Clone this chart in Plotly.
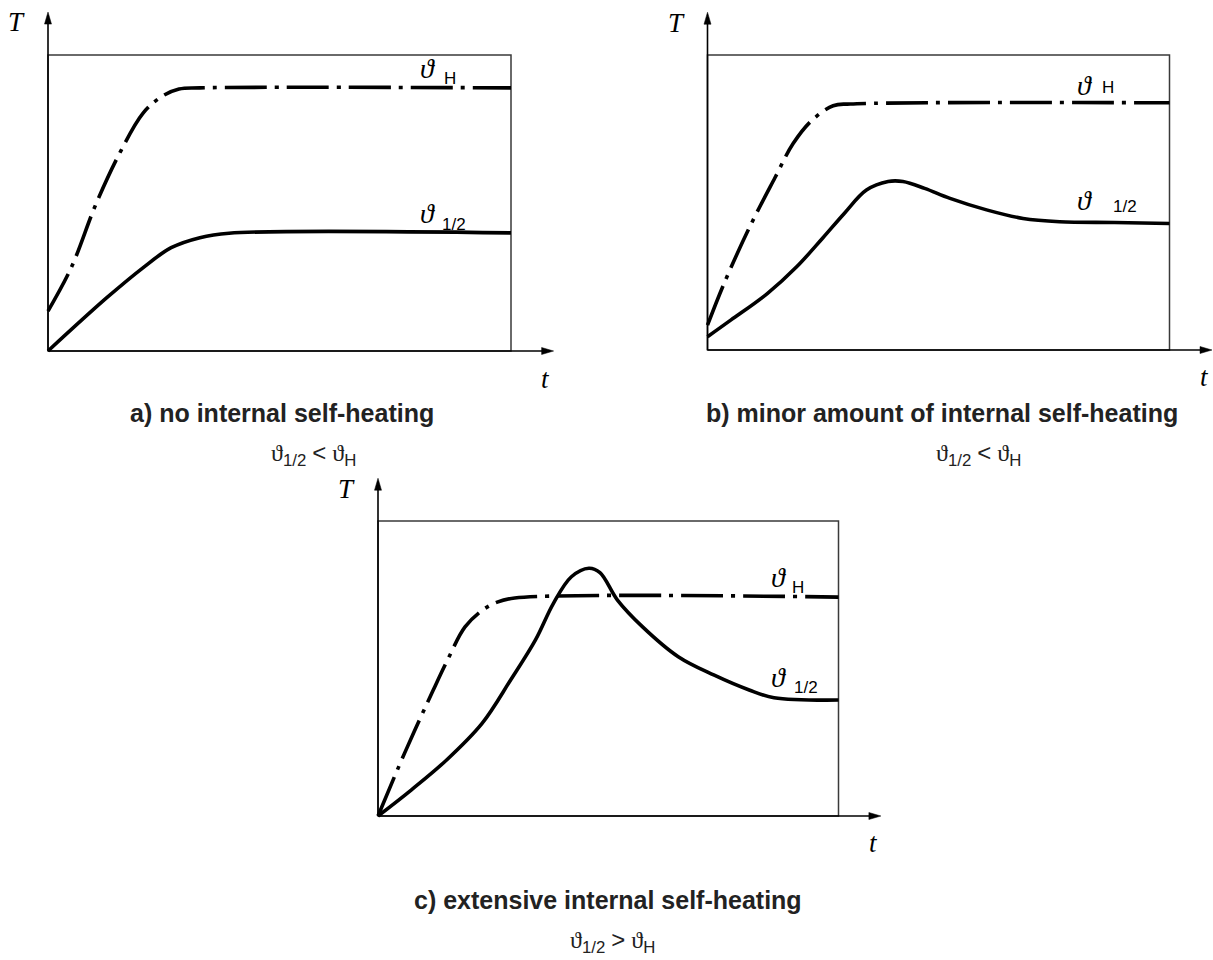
import plotly.graph_objects as go

W, H = 1213, 960

# ---------------- data (box = 0..100 in each panel) ----------------
# panel a) no internal self-heating
a_H_t = [0, 5.0, 10.4, 15.8, 20.5, 24.4, 28.3, 32.8, 100]
a_H_T = [13.5, 28.1, 49.8, 67.8, 80.3, 85.8, 88.5, 88.9, 88.9]
a_C_t = [0, 12.7, 20.5, 26.6, 32.8, 39.1, 100]
a_C_T = [0, 18.0, 28.1, 34.9, 38.3, 39.8, 39.9]

# panel b) minor amount of internal self-heating
b_H_t = [0, 3.6, 9.1, 14.6, 18.5, 22.5, 27.2, 30.9, 100]
b_H_T = [8.4, 22.6, 41.6, 58.4, 69.9, 77.7, 82.8, 83.4, 83.8]
b_C_t = [0, 5.1, 13.0, 19.3, 24.9, 29.6, 34.4, 39.1, 42.3, 47.0, 52.5, 60.4, 68.3, 76.2, 88.1, 100]
b_C_T = [4.5, 10.2, 19.2, 28.2, 37.9, 46.3, 54.2, 57.1, 57.1, 54.8, 51.4, 47.5, 44.6, 43.5, 43.2, 42.9]

# panel c) extensive internal self-heating
c_H_t = [0, 5.8, 12.0, 15.1, 18.9, 22.7, 25.9, 29.7, 100]
c_H_T = [0, 21.4, 42.7, 52.9, 64.1, 69.8, 72.5, 73.9, 74.2]
c_C_t = [0, 7.2, 14.9, 22.6, 28.8, 34.2, 38.1, 42.0, 45.8, 48.2, 52.0, 57.4, 65.2, 72.9, 80.6, 86.0, 100]
c_C_T = [0, 8.8, 19.0, 31.4, 46.1, 59.7, 72.1, 81.1, 84.0, 82.5, 73.2, 64.2, 54.0, 47.8, 42.7, 40.1, 39.3]

captions = ["a) no internal self-heating",
            "b) minor amount of internal self-heating",
            "c) extensive internal self-heating"]
relations = ["&lt;", "&lt;", "&gt;"]

# ---------------- layout helpers ----------------
panels = [
    dict(x0=48, x1=511, y0=351, y1=55, win=(0, 600, 0, 395),
         hlab=((81.9, 95.6), (86.8, 92.2)), clab=((81.9, 46.5), (87.7, 42.9)),
         cap=(282, 413), rel=(313, 455)),
    dict(x0=707.5, x1=1169.5, y0=350, y1=55, win=(640, 1213, 0, 395),
         hlab=((81.7, 89.7), (86.6, 89.0)), clab=((81.7, 50.7), (90.4, 48.6)),
         cap=(942, 413), rel=(978, 455)),
    dict(x0=378, x1=838.5, y0=816, y1=521, win=(300, 900, 460, 880),
         hlab=((86.9, 81.0), (91.2, 77.6)), clab=((86.9, 46.8), (92.9, 43.7)),
         cap=(608, 900), rel=(612, 941)),
]
curves = [(a_H_t, a_H_T, a_C_t, a_C_T), (b_H_t, b_H_T, b_C_t, b_C_T), (c_H_t, c_H_T, c_C_t, c_C_T)]

TIPX, TIPY = 109.2, 114.5

fig = go.Figure()
shapes, annots = [], []
layout_axes = {}

SERIF = "Liberation Serif, DejaVu Serif, serif"
SANS = "Liberation Sans, Arial, sans-serif"

for i, (p, cv) in enumerate(zip(panels, curves)):
    n = "" if i == 0 else str(i + 1)
    xr, yr = "x" + n, "y" + n
    sx = (p["x1"] - p["x0"]) / 100.0
    sy = (p["y0"] - p["y1"]) / 100.0
    L, R, Tp, B = p["win"]
    layout_axes["xaxis" + n] = dict(domain=[L / W, R / W], range=[(L - p["x0"]) / sx, (R - p["x0"]) / sx],
                                    visible=False, anchor=yr, fixedrange=True)
    layout_axes["yaxis" + n] = dict(domain=[1 - B / H, 1 - Tp / H], range=[(p["y0"] - B) / sy, (p["y0"] - Tp) / sy],
                                    visible=False, anchor=xr, fixedrange=True)

    ht, hT, ct, cT = cv
    fig.add_trace(go.Scatter(x=ht, y=hT, mode="lines", xaxis=xr, yaxis=yr, hoverinfo="skip",
                             line=dict(shape="spline", width=3.6, color="black", dash="42px,8px,4px,8px")))
    fig.add_trace(go.Scatter(x=ct, y=cT, mode="lines", xaxis=xr, yaxis=yr, hoverinfo="skip",
                             line=dict(shape="spline", width=3.6, color="black")))

    # box
    shapes.append(dict(type="rect", xref=xr, yref=yr, x0=0, y0=0, x1=100, y1=100,
                       line=dict(color="#3a3a3a", width=1.5), layer="below"))
    # axes
    shapes.append(dict(type="line", xref=xr, yref=yr, x0=0, y0=0, x1=0, y1=TIPY - 2,
                       line=dict(color="black", width=1.6)))
    shapes.append(dict(type="line", xref=xr, yref=yr, x0=0, y0=0, x1=TIPX - 2, y1=0,
                       line=dict(color="black", width=1.6)))
    # arrow heads (pixel sized)
    shapes.append(dict(type="path", xref=xr, yref=yr, xsizemode="pixel", ysizemode="pixel",
                       xanchor=0, yanchor=TIPY, path="M -3.5 -12 L 3.5 -12 L 0 0 Z",
                       fillcolor="black", line=dict(color="black", width=0.5)))
    shapes.append(dict(type="path", xref=xr, yref=yr, xsizemode="pixel", ysizemode="pixel",
                       xanchor=TIPX, yanchor=0, path="M -12 -3.5 L -12 3.5 L 0 0 Z",
                       fillcolor="black", line=dict(color="black", width=0.5)))

    # axis labels
    annots.append(dict(xref=xr, yref=yr, x=-6.8, y=111, text="<i>T</i>", showarrow=False,
                       font=dict(family=SERIF, size=27, color="black")))
    annots.append(dict(xref=xr, yref=yr, x=107.5, y=-9.3, text="<i>t</i>", showarrow=False,
                       font=dict(family=SERIF, size=27, color="black")))

    # curve labels
    (tx, ty), (sx_, sy_) = p["hlab"]
    annots.append(dict(xref=xr, yref=yr, x=tx, y=ty, text="<i>ϑ</i>", showarrow=False,
                       font=dict(family=SERIF, size=28, color="black")))
    annots.append(dict(xref=xr, yref=yr, x=sx_, y=sy_, text="H", showarrow=False,
                       font=dict(family=SANS, size=17, color="black")))
    (tx, ty), (sx_, sy_) = p["clab"]
    annots.append(dict(xref=xr, yref=yr, x=tx, y=ty, text="<i>ϑ</i>", showarrow=False,
                       font=dict(family=SERIF, size=28, color="black")))
    annots.append(dict(xref=xr, yref=yr, x=sx_, y=sy_, text="1/2", showarrow=False,
                       font=dict(family=SANS, size=17, color="black")))

    # caption and relation
    cx, cy = p["cap"]
    annots.append(dict(xref="paper", yref="paper", x=cx / W, y=1 - cy / H, text="<b>%s</b>" % captions[i],
                       showarrow=False, xanchor="center", yanchor="middle",
                       font=dict(family=SANS, size=25, color="#222222")))
    rx, ry = p["rel"]
    sub = "<span style='font-family:Liberation Sans, Arial, sans-serif'>%s</span>"
    rel_text = ("ϑ<sub>" + sub % "1/2" + "</sub> " + "<span style='font-family:Liberation Sans, Arial, sans-serif'>"
                + relations[i] + "</span> ϑ<sub>" + sub % "H" + "</sub>")
    annots.append(dict(xref="paper", yref="paper", x=rx / W, y=1 - ry / H, text=rel_text,
                       showarrow=False, xanchor="center", yanchor="middle",
                       font=dict(family=SERIF, size=24, color="#222222")))

fig.update_layout(width=W, height=H, margin=dict(l=0, r=0, t=0, b=0), autosize=False,
                  paper_bgcolor="white", plot_bgcolor="white", showlegend=False,
                  shapes=shapes, annotations=annots, **layout_axes)

fig.write_html("out.html", config={"displayModeBar": False})
